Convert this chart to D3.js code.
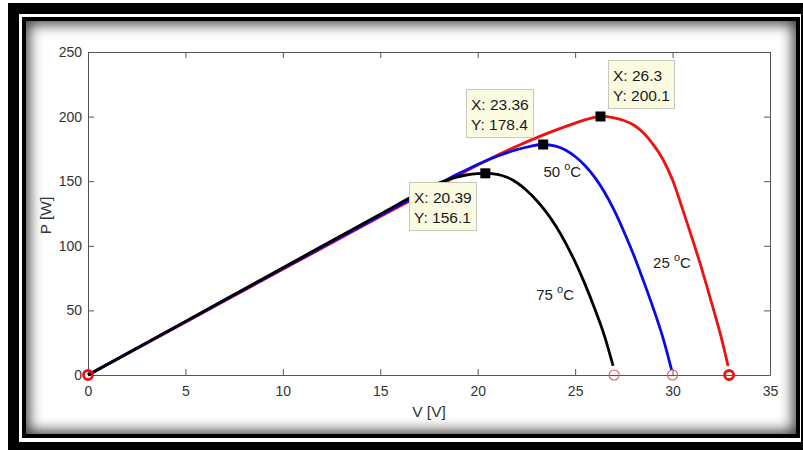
<!DOCTYPE html>
<html>
<head>
<meta charset="utf-8">
<script src="https://cdn.jsdelivr.net/npm/d3@7"></script>
<style>
  html, body { margin: 0; padding: 0; background: #fff; }
  #wrap { position: relative; width: 803px; height: 450px; overflow: hidden; }
  #frame { position: absolute; left: 8px; top: 3px; width: 820px; height: 470px; background: #000; }
  #gap { position: absolute; left: 19px; top: 14px; width: 782px; height: 428px; background: #fff; }
  #edge { position: absolute; left: 22px; top: 17px; width: 778px; height: 421px; background: #000; }
  #panel { position: absolute; left: 26px; top: 21px; width: 770px; height: 413px; background: #fff;
           box-shadow: inset 0 0 14px 3px rgba(0,0,0,0.78); }
  #chart { position: absolute; left: 0; top: 0; }
  text { font-family: Arial, "Liberation Sans", Helvetica, sans-serif; }
</style>
</head>
<body>
<div id="wrap">
  <div id="frame"></div>
  <div id="gap"></div>
  <div id="edge"></div>
  <div id="panel"></div>
  <svg id="chart" width="803" height="450"></svg>
</div>
<script>
// P-V characteristic of a PV module at three cell temperatures
const xTicks = [0, 5, 10, 15, 20, 25, 30, 35];
const yTicks = [0, 50, 100, 150, 200, 250];

// 25 °C
const v25 = [0, 5, 10, 15, 18, 20, 21, 22, 23, 24, 25, 25.5, 26, 26.3, 27, 27.5, 28, 28.5, 29, 29.5, 30, 30.5, 31, 31.5, 32, 32.5, 32.85];
const p25 = [0, 40.9, 81.8, 122.6, 146.5, 162.5, 170, 177, 183.5, 189.5, 195, 197.5, 199.4, 200.1, 199.0, 197.0, 193.5, 187.5, 178.5, 167, 151, 129, 106, 82, 56, 29, 7];
// 50 °C
const v50 = [0, 5, 10, 15, 18, 19, 20, 21, 22, 22.7, 23.36, 24, 24.5, 25, 25.5, 26, 26.5, 27, 27.5, 28, 28.5, 29, 29.5, 29.95];
const p50 = [0, 41.2, 82.4, 123.5, 147.8, 155.7, 163, 169.3, 174.4, 177.0, 178.4, 177.1, 174.1, 169.1, 162.1, 153.1, 141.6, 127.6, 111.1, 93.1, 73.1, 52.1, 29.1, 4];
// 75 °C
const v75 = [0, 5, 10, 15, 17, 18, 18.7, 19.4, 20, 20.39, 21, 21.5, 22, 22.5, 23, 23.5, 24, 24.5, 25, 25.5, 26, 26.5, 26.95];
const p75 = [0, 41.5, 83, 124.5, 141, 148.5, 152.3, 154.8, 155.9, 156.1, 155.3, 153.0, 149.0, 143.0, 135.5, 126.5, 115.5, 102.5, 87.5, 70.5, 51.5, 30.5, 7];

// maximum power points (data tips)
const mppV = [26.3, 23.36, 20.39];
const mppP = [200.1, 178.4, 156.1];
const mppLabelV = ["26.3", "23.36", "20.39"];
const mppLabelP = ["200.1", "178.4", "156.1"];

// open-circuit voltages
const vocV = [32.9, 30.0, 27.0];

// temperature annotations (text anchors in V / W)
const tempNames = ["25", "50", "75"];
const tempAtV = [29.0, 23.37, 23.0];
const tempAtP = [82.8, 153.3, 57.7];

const seriesColors = ["#f01010", "#0a0ae8", "#000000"];

const svg = d3.select("#chart");
const x = d3.scaleLinear().domain([0, 35]).range([88, 770]);
const y = d3.scaleLinear().domain([0, 250]).range([375, 52]);

const axisColor = "#555";
const textColor = "#333";

// axes with inward ticks on all four sides
const gx = svg.append("g").attr("transform", `translate(0,${y(0)})`)
  .call(d3.axisBottom(x).tickValues(xTicks).tickSizeInner(-6).tickSizeOuter(0).tickPadding(11));
const gxt = svg.append("g").attr("transform", `translate(0,${y(250)})`)
  .call(d3.axisTop(x).tickValues(xTicks).tickSizeInner(-6).tickSizeOuter(0).tickFormat(""));
const gy = svg.append("g").attr("transform", `translate(${x(0)},0)`)
  .call(d3.axisLeft(y).tickValues(yTicks).tickSizeInner(-6).tickSizeOuter(0).tickPadding(6));
const gyr = svg.append("g").attr("transform", `translate(${x(35)},0)`)
  .call(d3.axisRight(y).tickValues(yTicks).tickSizeInner(-6).tickSizeOuter(0).tickFormat(""));

[gx, gxt, gy, gyr].forEach(g => {
  g.select(".domain").attr("stroke", axisColor).attr("stroke-width", 1);
  g.selectAll(".tick line").attr("stroke", axisColor).attr("stroke-width", 1);
  g.selectAll(".tick text").attr("fill", textColor).style("font-size", "14px")
    .style("font-family", "Arial, 'Liberation Sans', Helvetica, sans-serif");
});

// axis titles
svg.append("text").attr("x", (x(0) + x(35)) / 2).attr("y", 417)
  .attr("text-anchor", "middle").attr("fill", textColor).style("font-size", "15.5px")
  .text("V [V]");
svg.append("text")
  .attr("transform", `translate(51,${(y(0) + y(250)) / 2 + 2}) rotate(-90)`)
  .attr("text-anchor", "middle").attr("fill", textColor).style("font-size", "15.5px")
  .text("P [W]");

// curves
const curves = [[v25, p25], [v50, p50], [v75, p75]];
const line = d3.line().x(d => x(d[0])).y(d => y(d[1])).curve(d3.curveMonotoneX);
curves.forEach(([vs, ps], i) => {
  svg.append("path")
    .datum(vs.map((v, k) => [v, ps[k]]))
    .attr("d", line)
    .attr("fill", "none")
    .attr("stroke", seriesColors[i])
    .attr("stroke-width", 2.8)
    .attr("stroke-linejoin", "round");
});

// open-circuit and short-circuit markers
vocV.forEach((v, i) => {
  svg.append("circle").attr("cx", x(v)).attr("cy", y(0)).attr("r", i === 0 ? 4.5 : 5)
    .attr("fill", "none")
    .attr("stroke", i === 0 ? "#ee1111" : "#dd5555")
    .attr("stroke-width", i === 0 ? 2.8 : 1.1);
});
svg.append("circle").attr("cx", x(0)).attr("cy", y(0)).attr("r", 4.5)
  .attr("fill", "none").attr("stroke", "#ee1111").attr("stroke-width", 2.8);

// maximum power point markers
mppV.forEach((v, i) => {
  svg.append("rect")
    .attr("x", x(v) - 5).attr("y", y(mppP[i]) - 5)
    .attr("width", 10).attr("height", 10)
    .attr("fill", "#000");
});

// data tips: placement relative to the marker
const tipPlacement = ["ne", "nw", "sw"];
mppV.forEach((v, i) => {
  const mx = x(v), my = y(mppP[i]);
  const g = svg.append("g");
  const lines = ["X: " + mppLabelV[i], "Y: " + mppLabelP[i]];
  const t = g.append("text").attr("fill", "#1a1a1a").style("font-size", "15.5px");
  lines.forEach((s, k) => t.append("tspan").attr("x", 5).attr("y", 21 + k * 19.5).text(s));
  const w = Math.ceil(t.node().getBBox().width) + 9;
  const h = 48;
  let bx, by;
  const p = tipPlacement[i];
  if (p === "ne") { bx = mx + 8; by = my - 56; }
  else if (p === "nw") { bx = mx - 10 - w; by = my - 56; }
  else { bx = mx - 9 - w; by = my + 9; }
  g.insert("rect", "text").attr("x", 0.5).attr("y", 0.5).attr("width", w).attr("height", h)
    .attr("fill", "#fbfbe2").attr("stroke", "#c9c9b8").attr("stroke-width", 1);
  g.attr("transform", `translate(${Math.round(bx)},${Math.round(by)})`);
});

// temperature annotations with superscript degree
tempNames.forEach((n, i) => {
  const t = svg.append("text")
    .attr("x", x(tempAtV[i])).attr("y", y(tempAtP[i]))
    .attr("fill", "#222").style("font-size", "15px");
  t.append("tspan").text(n + " ");
  t.append("tspan").attr("dy", -7).style("font-size", "11px").text("o");
  t.append("tspan").attr("dy", 7).text("C");
});
</script>
</body>
</html>
